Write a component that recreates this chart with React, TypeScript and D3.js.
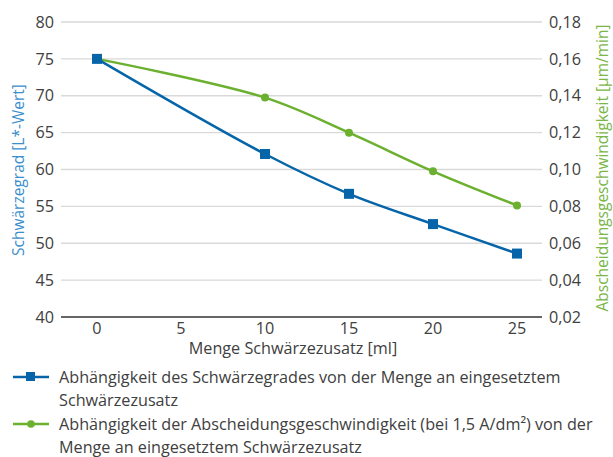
import React from "react";
import * as d3 from "d3";

// Menge Schwärzezusatz [ml]
const mengen = [0, 10, 15, 20, 25];
const schwaerzegrad = [75, 62.1, 56.7, 52.6, 48.6];
const abscheidung = [0.16, 0.139, 0.12, 0.099, 0.0805];

const xTicks = [0, 5, 10, 15, 20, 25];
const leftTicks = [40, 45, 50, 55, 60, 65, 70, 75, 80];
const rightTicks = [0.02, 0.04, 0.06, 0.08, 0.1, 0.12, 0.14, 0.16, 0.18];

const legendBlue = ["Abhängigkeit des Schwärzegrades von der Menge an eingesetztem", "Schwärzezusatz"];
const legendGreen = ["Abhängigkeit der Abscheidungsgeschwindigkeit (bei 1,5 A/dm²) von der", "Menge an eingesetztem Schwärzezusatz"];

const BLUE = "#0565a8";
const GREEN = "#6bb02f";
const FONT = "'Open Sans', sans-serif";
const FS = 16.2;

export default function App() {
  const width = 613;
  const height = 457;
  const plotLeft = 61;
  const plotRight = 542;
  const top = 22;
  const bottom = 317;

  const x = d3.scaleLinear().domain([0, 25]).range([97, 517]);
  const yL = d3.scaleLinear().domain([40, 80]).range([bottom, top]);
  const yR = d3.scaleLinear().domain([0.02, 0.18]).range([bottom, top]);

  const blueLine = d3
    .line<number>()
    .x((_, i) => x(mengen[i]))
    .y((d) => yL(d))
    .curve(d3.curveCatmullRom.alpha(0.5));
  const greenLine = d3
    .line<number>()
    .x((_, i) => x(mengen[i]))
    .y((d) => yR(d))
    .curve(d3.curveCatmullRom.alpha(0.5));

  const fmt = (v: number) => v.toFixed(2).replace(".", ",");

  return (
    <svg width={width} height={height} style={{ position: "absolute", left: 0, top: 0, fontFamily: FONT }}>
      <rect width={width} height={height} fill="#fff" />
      {/* gridlines */}
      {leftTicks.map((t) => (
        <line
          key={t}
          x1={plotLeft}
          x2={plotRight}
          y1={yL(t)}
          y2={yL(t)}
          stroke={t === 40 ? "#333" : "#d9d9d9"}
          strokeWidth={t === 40 ? 1.5 : 1.3}
        />
      ))}
      {/* left ticks */}
      {leftTicks.map((t) => (
        <text key={t} x={54} y={yL(t)} dy="0.35em" textAnchor="end" fontSize={FS} fill="#404040">
          {t}
        </text>
      ))}
      {/* right ticks */}
      {rightTicks.map((t) => (
        <text key={t} x={549} y={yR(t)} dy="0.35em" textAnchor="start" fontSize={FS} fill="#404040">
          {fmt(t)}
        </text>
      ))}
      {/* x ticks */}
      {xTicks.map((t) => (
        <text key={t} x={x(t)} y={328} dy="0.35em" textAnchor="middle" fontSize={FS} fill="#404040">
          {t}
        </text>
      ))}
      <text x={293} y={348} dy="0.35em" textAnchor="middle" fontSize={FS} fill="#404040">
        Menge Schwärzezusatz [ml]
      </text>
      <text
        transform={`translate(19,170) rotate(-90)`}
        textAnchor="middle"
        dy="0.35em"
        fontSize={15.5}
        fill="#3d8fcc"
      >
        Schwärzegrad [L*-Wert]
      </text>
      <text
        transform={`translate(603,168) rotate(-90)`}
        textAnchor="middle"
        dy="0.35em"
        fontSize={15.5}
        fill="#7ab648"
      >
        Abscheidungsgeschwindigkeit [µm/min]
      </text>

      {/* series */}
      <path d={greenLine(abscheidung) || ""} fill="none" stroke={GREEN} strokeWidth={2.5} />
      {abscheidung.map((v, i) => (
        <circle key={i} cx={x(mengen[i])} cy={yR(v)} r={4} fill={GREEN} />
      ))}
      <path d={blueLine(schwaerzegrad) || ""} fill="none" stroke={BLUE} strokeWidth={2.5} />
      {schwaerzegrad.map((v, i) => (
        <rect key={i} x={x(mengen[i]) - 5} y={yL(v) - 5} width={10} height={10} fill={BLUE} />
      ))}

      {/* legend */}
      <g>
        <line x1={13} x2={49} y1={377} y2={377} stroke={BLUE} strokeWidth={2.5} />
        <rect x={26} y={372} width={9} height={9} fill={BLUE} />
        {legendBlue.map((s, i) => (
          <text key={i} x={59} y={377 + i * 23.5} dy="0.35em" fontSize={FS} fill="#404040">
            {s}
          </text>
        ))}
        <line x1={13} x2={49} y1={424} y2={424} stroke={GREEN} strokeWidth={2.5} />
        <circle cx={31} cy={424} r={3.8} fill={GREEN} />
        {legendGreen.map((s, i) => (
          <text key={i} x={59} y={424 + i * 23.5} dy="0.35em" fontSize={FS} fill="#404040">
            {s}
          </text>
        ))}
      </g>
    </svg>
  );
}
